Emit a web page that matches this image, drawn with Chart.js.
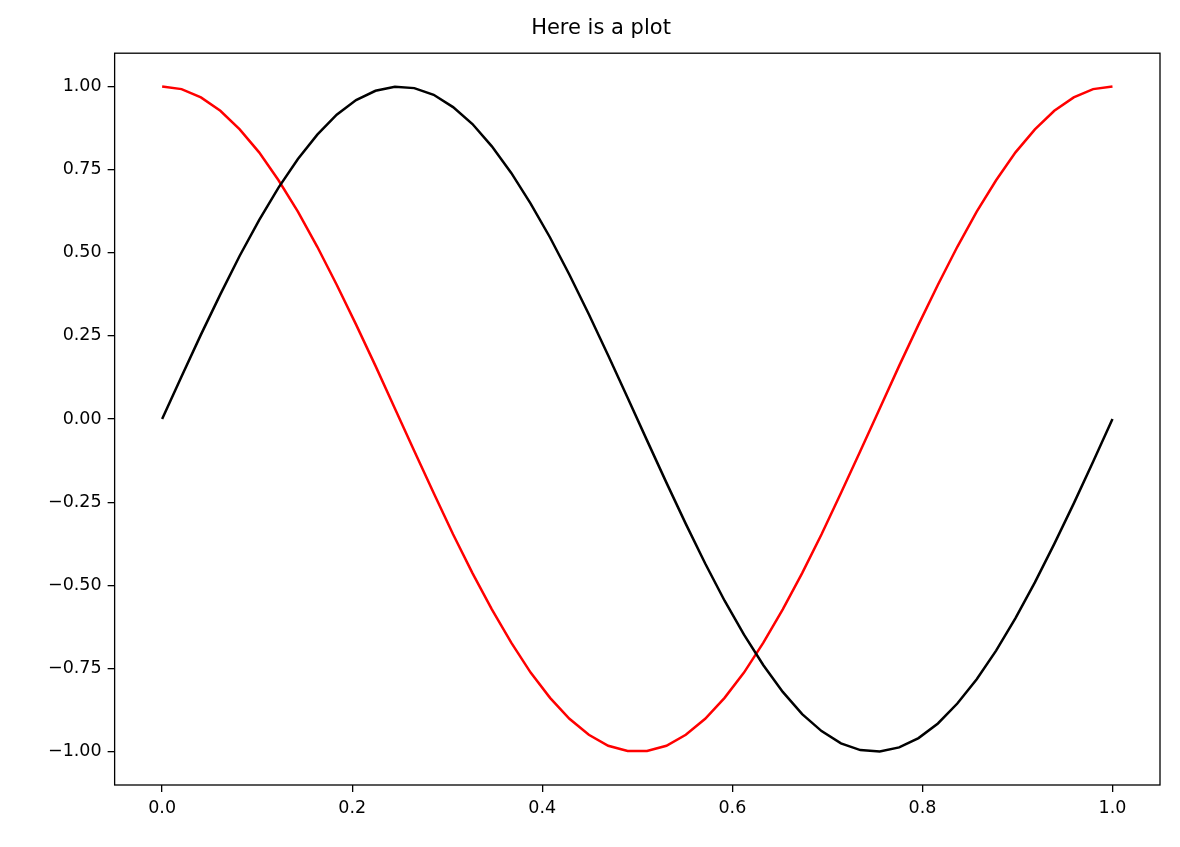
<!DOCTYPE html>
<html>
<head>
<meta charset="utf-8">
<script src="https://cdn.jsdelivr.net/npm/chart.js@4"></script>
<style>
  html, body { margin: 0; padding: 0; background: #fff; }
  #wrap { width: 1180px; height: 847px; }
</style>
</head>
<body>
<div id="wrap"><canvas id="plot"></canvas></div>
<script>
// values (50 samples from 0 to 1)
var sinValues = [0, 0.128, 0.254, 0.375, 0.491, 0.598, 0.696, 0.782, 0.855, 0.915,
  0.959, 0.987, 0.999, 0.995, 0.975, 0.938, 0.887, 0.820, 0.740, 0.648,
  0.546, 0.434, 0.315, 0.191, 0.064, -0.064, -0.191, -0.315, -0.434, -0.546,
  -0.648, -0.740, -0.820, -0.887, -0.938, -0.975, -0.995, -0.999, -0.987, -0.959,
  -0.915, -0.855, -0.782, -0.696, -0.598, -0.491, -0.375, -0.254, -0.128, 0];
var cosValues = [1, 0.992, 0.967, 0.927, 0.871, 0.802, 0.718, 0.624, 0.518, 0.404,
  0.284, 0.160, 0.032, -0.096, -0.222, -0.346, -0.463, -0.572, -0.672, -0.762,
  -0.838, -0.901, -0.949, -0.982, -0.998, -0.998, -0.982, -0.949, -0.901, -0.838,
  -0.762, -0.672, -0.572, -0.463, -0.346, -0.222, -0.096, 0.032, 0.160, 0.284,
  0.404, 0.518, 0.624, 0.718, 0.802, 0.871, 0.927, 0.967, 0.992, 1];
var xTicks = [0, 0.2, 0.4, 0.6, 0.8, 1.0];
var yTicks = [-1, -0.75, -0.5, -0.25, 0, 0.25, 0.5, 0.75, 1];

function toPoints(vals) {
  return vals.map(function(v, i) { return { x: i / (vals.length - 1), y: v }; });
}

var frame = {
  id: "frame",
  afterDraw: function(chart) {
    var a = chart.chartArea, ctx = chart.ctx;
    ctx.save();
    ctx.strokeStyle = "#000";
    ctx.lineWidth = 1.3;
    ctx.strokeRect(a.left, a.top, a.right - a.left, a.bottom - a.top);
    ctx.restore();
  }
};

Chart.defaults.font.family = "DejaVu Sans";
Chart.defaults.font.size = 17.5;
Chart.defaults.color = "#000";

new Chart(document.getElementById("plot"), {
  type: "line",
  data: {
    datasets: [
      { data: toPoints(sinValues), borderColor: "#000", borderWidth: 2.5, pointRadius: 0, tension: 0 },
      { data: toPoints(cosValues), borderColor: "#ff0000", borderWidth: 2.5, pointRadius: 0, tension: 0 }
    ]
  },
  options: {
    responsive: true,
    maintainAspectRatio: false,
    animation: false,
    layout: { padding: { left: 42, right: 20, top: 4, bottom: 22 } },
    plugins: {
      legend: { display: false },
      tooltip: { enabled: false },
      title: { display: true, text: "Here is a plot", font: { size: 21, weight: "normal" }, padding: { top: 12, bottom: 12 } }
    },
    scales: {
      x: {
        type: "linear", min: -0.05, max: 1.05,
        afterBuildTicks: function(s) { s.ticks = xTicks.map(function(v) { return { value: v }; }); },
        ticks: { callback: function(v) { return v.toFixed(1); }, padding: 6, maxRotation: 0 },
        grid: { drawOnChartArea: false, drawTicks: true, tickLength: 7, color: "#000", lineWidth: 1.3 },
        border: { display: false }
      },
      y: {
        type: "linear", min: -1.1, max: 1.1,
        afterBuildTicks: function(s) { s.ticks = yTicks.map(function(v) { return { value: v }; }); },
        ticks: { callback: function(v) { return v.toFixed(2).replace("-", "\u2212"); }, padding: 6 },
        grid: { drawOnChartArea: false, drawTicks: true, tickLength: 7, color: "#000", lineWidth: 1.3 },
        border: { display: false }
      }
    }
  },
  plugins: [frame]
});
</script>
</body>
</html>
